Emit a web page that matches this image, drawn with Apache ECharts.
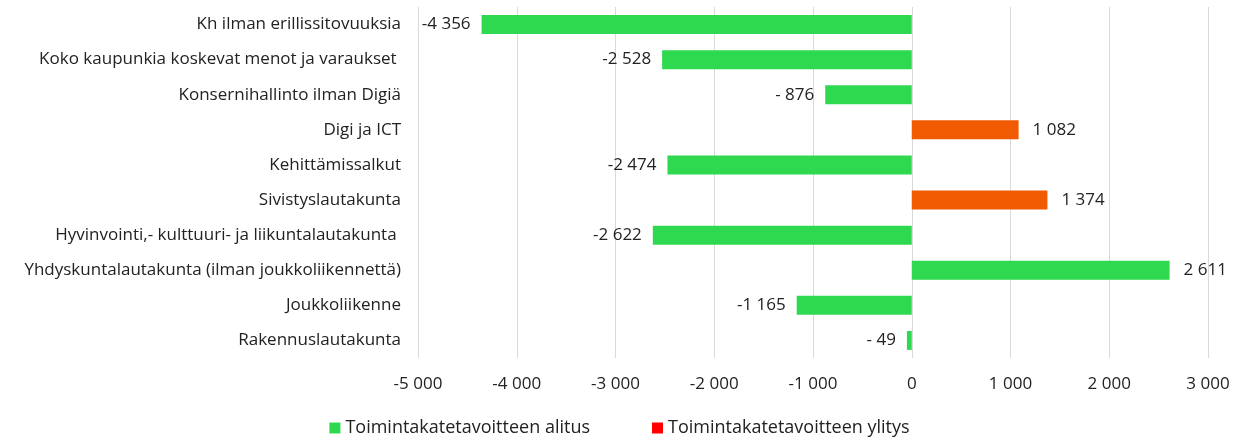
<!DOCTYPE html>
<html><head><meta charset="utf-8">
<script src="https://cdn.jsdelivr.net/npm/echarts@6/dist/echarts.min.js"></script>
<style>html,body{margin:0;padding:0;background:#fff}#c{width:1239px;height:439px}</style>
</head><body><div id="c"></div>
<script>
const categories = ["Kh ilman erillissitovuuksia","Koko kaupunkia koskevat menot ja varaukset ","Konsernihallinto ilman Digiä","Digi ja ICT","Kehittämissalkut","Sivistyslautakunta","Hyvinvointi,- kulttuuri- ja liikuntalautakunta ","Yhdyskuntalautakunta (ilman joukkoliikennettä)","Joukkoliikenne","Rakennuslautakunta"];
const alitusValues = [-4356,-2528,-876,null,-2474,null,-2622,2611,-1165,-49];
const ylitysValues = [null,null,null,1082,null,1374,null,null,null,null];
const seriesNames = ["Toimintakatetavoitteen alitus","Toimintakatetavoitteen ylitys"];

const FONT = "Open Sans";
function fmt(v){
  const a = Math.abs(v);
  const s = String(a).replace(/\B(?=(\d{3})+(?!\d))/g, " ");
  if (v < 0) return (a < 1000 ? "- " : "-") + s;
  return s;
}
function items(arr, color){
  return arr.map(v => v == null ? '-' : {
    value: v,
    itemStyle: color ? {color} : undefined,
    label: {position: v < 0 ? 'left' : 'right', distance: v < 0 ? 11 : 14}
  });
}
const chart = echarts.init(document.getElementById('c'));
chart.setOption({
  animation:false,
  textStyle:{fontFamily:FONT},
  grid:{left:418,right:31,top:7,bottom:81,containLabel:false},
  legend:{
    top:419, left:'center', padding:0, itemWidth:11, itemHeight:11, itemGap:62,
    icon:'rect',
    textStyle:{fontFamily:FONT,fontSize:18,color:'#222'},
    data:seriesNames
  },
  xAxis:{
    type:'value', min:-5000, max:3000, interval:1000,
    axisLine:{show:false}, axisTick:{show:false},
    splitLine:{lineStyle:{color:'#d9d9d9'}},
    axisLabel:{fontFamily:FONT,fontSize:17,color:'#222',margin:18,
      formatter:v=>fmt(v)}
  },
  yAxis:{
    type:'category', inverse:true, data:categories,
    axisLine:{show:false}, axisTick:{show:false},
    axisLabel:{fontFamily:FONT,fontSize:17,color:'#222',margin:17}
  },
  series:[
    {name:seriesNames[0], type:'bar', stack:'t', barWidth:'54%', color:'#2ed94f',
     data:items(alitusValues),
     label:{show:true,fontFamily:FONT,fontSize:17,color:'#222',formatter:p=>fmt(p.value)}},
    {name:seriesNames[1], type:'bar', stack:'t', barWidth:'54%', color:'#ff0000',
     data:items(ylitysValues,'#f05a00'),
     label:{show:true,fontFamily:FONT,fontSize:17,color:'#222',formatter:p=>fmt(p.value)}}
  ]
});
</script></body></html>
